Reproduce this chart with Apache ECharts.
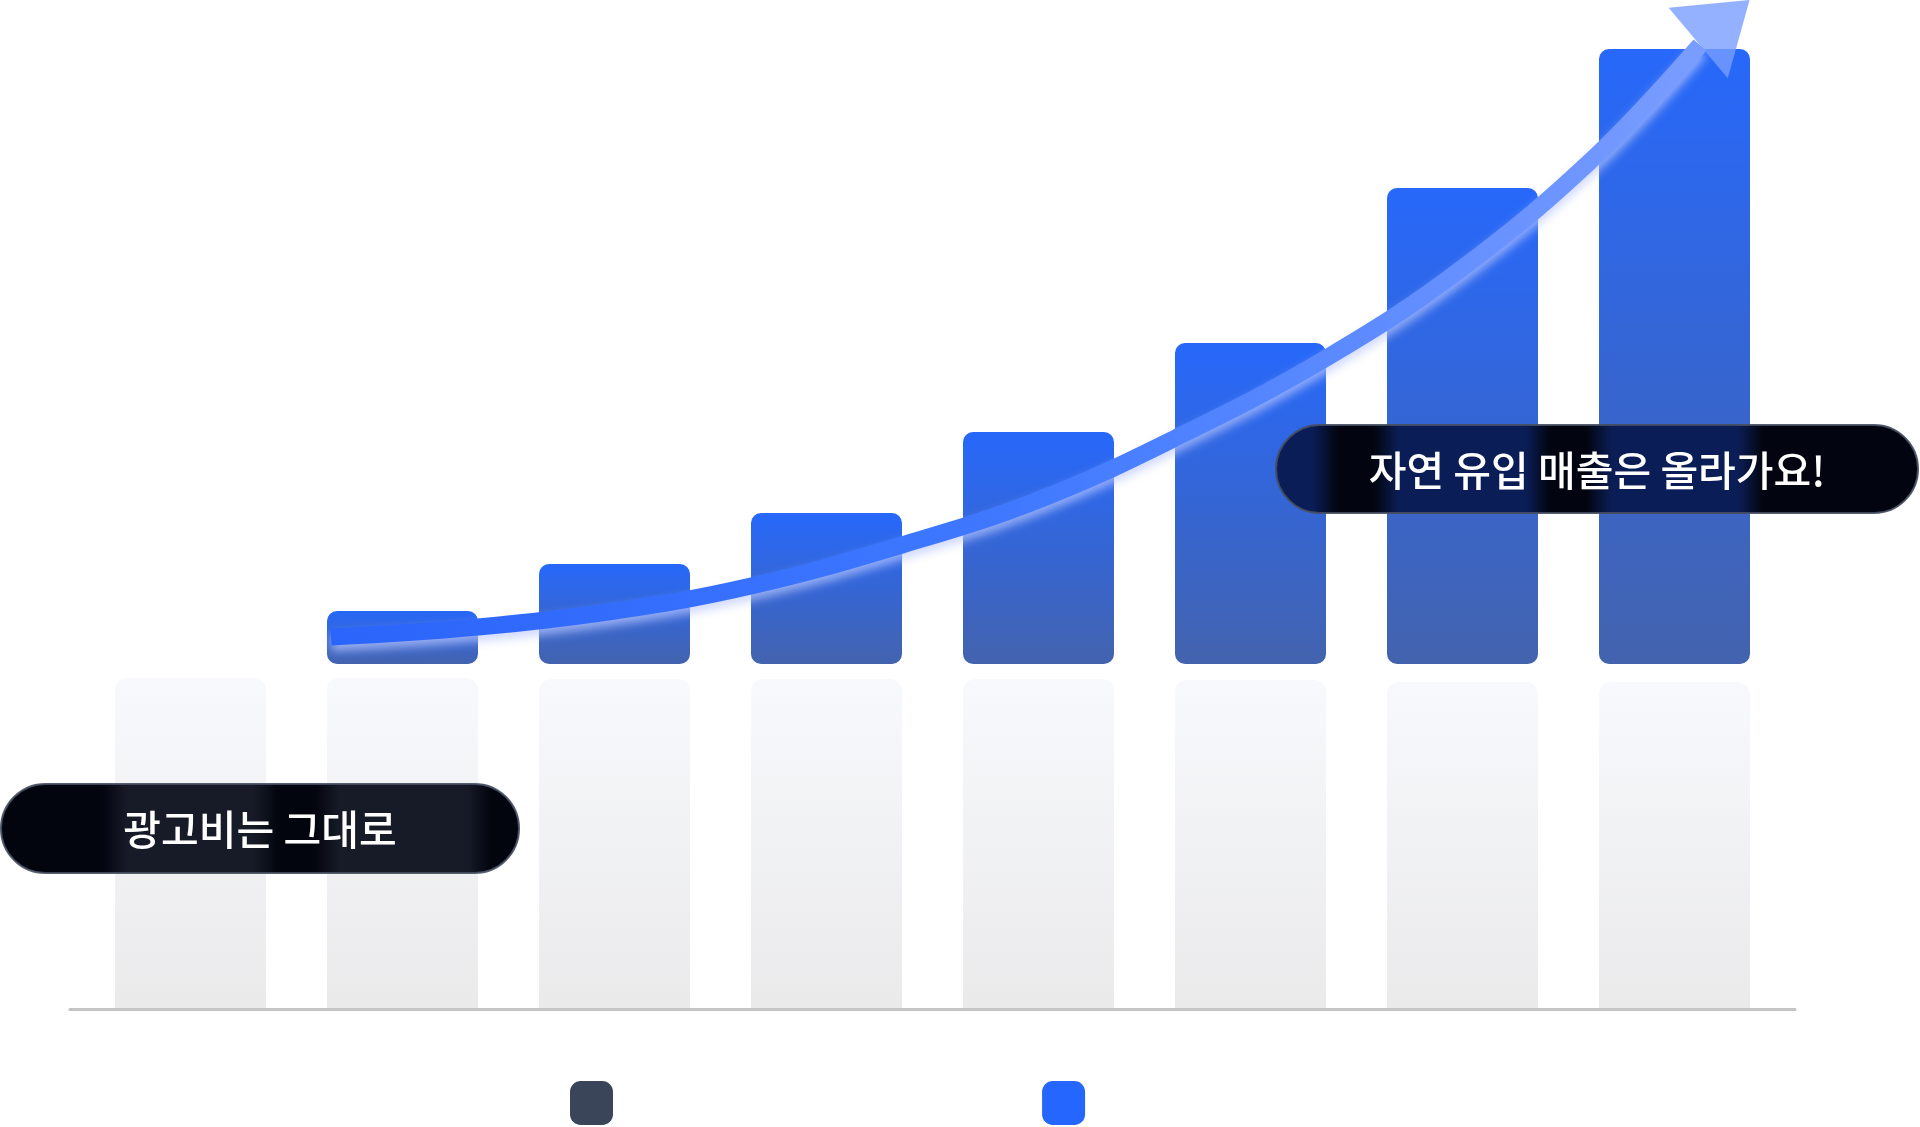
<!DOCTYPE html>
<html><head><meta charset="utf-8">
<script src="https://cdn.jsdelivr.net/npm/echarts@6/dist/echarts.min.js"></script>
<style>html,body{margin:0;padding:0;background:#fff}#c{width:1920px;height:1127px}</style>
</head><body><div id="c"></div>
<script>
// ---- data ----
const categories = ['1', '2', '3', '4', '5', '6', '7', '8'];
const adSpendName = '광고 지출로 인해 발생된 매출';
const organicName = '자연 유입 매출';
const adSpendValues = [331, 331, 330, 330, 330, 329, 327, 327];
const organicBase = [345, 345, 345, 345, 345, 345, 345, 345];
const organicValues = ['-', 53, 100, 151, 232, 321, 476, 615];
const trendX = [0.663, 1.356, 2.0, 2.644, 3.356, 4.0, 4.646, 5.358, 6.0, 6.639, 7.12];
const trendY = [372, 382, 398, 423, 464, 509, 571, 651, 741, 855, 964];
const arrowHead = [7.233, 987.5];
const leftCallout = '광고비는 그대로';
const rightCallout = '자연 유입 매출은 올라가요!';

const FONT = "'Noto Sans CJK KR', 'Noto Sans', sans-serif";
const chart = echarts.init(document.getElementById('c'), null, {renderer: 'canvas'});

const option = {
  animation: false,
  backgroundColor: '#ffffff',
  grid: [
    {left: 84.5, right: 139.5, top: 9, bottom: 118},
    {left: 70, right: 125, top: 9, bottom: 118}
  ],
  xAxis: [
    {type: 'category', gridIndex: 0, data: categories, show: false},
    {type: 'value', gridIndex: 0, min: -0.5, max: 7.5, show: false},
    {type: 'value', gridIndex: 1, min: 0, max: 1, z: 5,
      axisLine: {show: true, lineStyle: {color: '#c4c4c4', width: 3}},
      axisTick: {show: false}, axisLabel: {show: false}, splitLine: {show: false}}
  ],
  yAxis: [
    {type: 'value', gridIndex: 0, min: 0, max: 1000, show: false},
    {type: 'value', gridIndex: 1, min: 0, max: 1000, show: false}
  ],
  legend: {
    left: 565, top: 1076, itemWidth: 43, itemHeight: 44, itemGap: 52,
    icon: 'roundRect', selectedMode: false,
    textStyle: {color: '#ffffff', fontSize: 30, fontFamily: FONT, padding: [0, 0, 0, 14]},
    data: [
      {name: adSpendName, itemStyle: {color: '#3b4559'}},
      {name: organicName, itemStyle: {color: '#2566ff'}}
    ]
  },
  series: [
    {
      name: adSpendName, type: 'bar', xAxisIndex: 0, yAxisIndex: 0,
      data: adSpendValues, barWidth: 151, barGap: '-100%', z: 2,
      itemStyle: {
        borderRadius: [12, 12, 0, 0],
        color: {type: 'linear', x: 0, y: 0, x2: 0, y2: 1, colorStops: [
          {offset: 0, color: '#f8f9fc'}, {offset: 1, color: '#eaeaeb'}]}
      }
    },
    {
      name: 'base', type: 'bar', stack: 'rev', xAxisIndex: 0, yAxisIndex: 0,
      data: organicBase, barWidth: 151, barGap: '-100%', silent: true,
      itemStyle: {color: 'rgba(0,0,0,0)'}
    },
    {
      name: organicName, type: 'bar', stack: 'rev', xAxisIndex: 0, yAxisIndex: 0,
      data: organicValues, barWidth: 151, barGap: '-100%', z: 3,
      itemStyle: {
        borderRadius: 10,
        color: {type: 'linear', x: 0, y: 0, x2: 0, y2: 1, colorStops: [
          {offset: 0, color: '#2768fa'}, {offset: 1, color: '#4363ae'}]}
      }
    },
    {
      name: 'trend', type: 'line', xAxisIndex: 1, yAxisIndex: 0, z: 6,
      data: trendX.map((x, i) => [x, trendY[i]]),
      smooth: 0.4, symbol: 'none', clip: false,
      lineStyle: {
        width: 17, cap: 'butt',
        color: {type: 'linear', x: 0, y: 0, x2: 1, y2: 0, colorStops: [
          {offset: 0, color: '#2a64fa'}, {offset: 0.5, color: '#4079ff'}, {offset: 1, color: '#7a9dff'}]},
        shadowColor: 'rgba(190,202,255,0.7)', shadowBlur: 10, shadowOffsetY: 6
      }
    },
    {
      name: 'arrow', type: 'scatter', xAxisIndex: 1, yAxisIndex: 0, z: 7, clip: false,
      data: [arrowHead], symbol: 'triangle', symbolSize: [92, 67], symbolRotate: -50,
      itemStyle: {color: '#789dff'}
    }
  ]
};
chart.setOption(option);

// ---- callout pills (tinted where bars sit behind them) ----
function hexToRgb(h) { return [1, 3, 5].map(i => parseInt(h.substr(i, 2), 16)); }
function mix(a, b, t) {
  const A = hexToRgb(a), B = hexToRgb(b);
  return 'rgb(' + A.map((v, i) => Math.round(v + (B[i] - v) * t)).join(',') + ')';
}
function pillStops(x0, w, base, tint) {
  const centers = categories.map((c, i) => chart.convertToPixel({xAxisIndex: 0}, i));
  const half = 75.5, soft = 12, stops = [];
  const N = 120;
  for (let k = 0; k <= N; k++) {
    const px = x0 + w * k / N;
    let t = 0;
    centers.forEach(c => {
      const d = Math.abs(px - c) - half;
      const v = d <= -soft ? 1 : d >= soft ? 0 : (soft - d) / (2 * soft);
      t = Math.max(t, v);
    });
    stops.push({offset: k / N, color: mix(base, tint, t)});
  }
  return stops;
}
function pill(x, y, w, h, text, base, tint) {
  return [
    {type: 'rect', z: 100, shape: {x: x, y: y, width: w, height: h, r: h / 2},
      style: {fill: {type: 'linear', x: 0, y: 0, x2: 1, y2: 0, colorStops: pillStops(x, w, base, tint)},
        stroke: 'rgba(70,78,96,0.9)', lineWidth: 2}},
    {type: 'text', z: 101, x: x + w / 2, y: y + h / 2 + 1,
      style: {text: text, fill: '#ffffff', fontSize: 41, fontWeight: 500, fontFamily: FONT,
        align: 'center', verticalAlign: 'middle', textAlign: 'center', textVerticalAlign: 'middle'}}
  ];
}
chart.setOption({
  graphic: [].concat(
    pill(1, 784, 518, 89, leftCallout, '#02050e', '#171b27'),
    pill(1276, 425, 642, 88, rightCallout, '#02050f', '#0b1d56')
  )
});
</script></body></html>
